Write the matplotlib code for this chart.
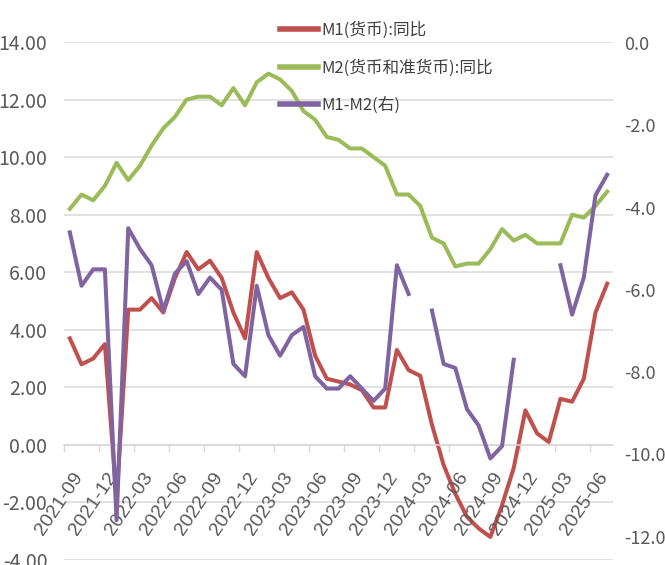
import numpy as np
import matplotlib
matplotlib.use("Agg")
import matplotlib.pyplot as plt
from matplotlib.transforms import ScaledTranslation

# ---------------- data ----------------
months = ["2021-09", "2021-10", "2021-11", "2021-12",
          "2022-01", "2022-02", "2022-03", "2022-04", "2022-05", "2022-06",
          "2022-07", "2022-08", "2022-09", "2022-10", "2022-11", "2022-12",
          "2023-01", "2023-02", "2023-03", "2023-04", "2023-05", "2023-06",
          "2023-07", "2023-08", "2023-09", "2023-10", "2023-11", "2023-12",
          "2024-01", "2024-02", "2024-03", "2024-04", "2024-05", "2024-06",
          "2024-07", "2024-08", "2024-09", "2024-10", "2024-11", "2024-12",
          "2025-01", "2025-02", "2025-03", "2025-04", "2025-05", "2025-06",
          "2025-07"]

m1_yoy = [3.7, 2.8, 3.0, 3.5,
          -1.9, 4.7, 4.7, 5.1, 4.6, 5.8, 6.7, 6.1, 6.4, 5.8, 4.6, 3.7,
          6.7, 5.8, 5.1, 5.3, 4.7, 3.1, 2.3, 2.2, 2.1, 1.9, 1.3, 1.3,
          3.3, 2.6, 2.4, 0.7, -0.7, -1.7, -2.5, -2.9, -3.2, -2.1, -0.8, 1.2,
          0.4, 0.1, 1.6, 1.5, 2.3, 4.6, 5.6]

m2_yoy = [8.2, 8.7, 8.5, 9.0,
          9.8, 9.2, 9.7, 10.4, 11.0, 11.4, 12.0, 12.1, 12.1, 11.8, 12.4, 11.8,
          12.6, 12.9, 12.7, 12.3, 11.6, 11.3, 10.7, 10.6, 10.3, 10.3, 10.0, 9.7,
          8.7, 8.7, 8.3, 7.2, 7.0, 6.2, 6.3, 6.3, 6.8, 7.5, 7.1, 7.3,
          7.0, 7.0, 7.0, 8.0, 7.9, 8.3, 8.8]

nan = np.nan
m1_m2 = [-4.6, -5.9, -5.5, -5.5,
         -11.6, -4.5, -5.0, -5.4, -6.5, -5.6, -5.3, -6.1, -5.7, -6.0, -7.8, -8.1,
         -5.9, -7.1, -7.6, -7.1, -6.9, -8.1, -8.4, -8.4, -8.1, -8.4, -8.7, -8.4,
         -5.4, -6.1, nan, -6.5, -7.8, -7.9, -8.9, -9.3, -10.1, -9.8, -7.7, nan,
         nan, nan, -5.4, -6.6, -5.7, -3.7, -3.2]

series_names = ["M1(货币):同比", "M2(货币和准货币):同比", "M1-M2(右)"]

x_tick_labels = ["2021-09", "2021-12", "2022-03", "2022-06", "2022-09",
                 "2022-12", "2023-03", "2023-06", "2023-09", "2023-12",
                 "2024-03", "2024-06", "2024-09", "2024-12", "2025-03",
                 "2025-06"]
left_ticks = [14, 12, 10, 8, 6, 4, 2, 0, -2, -4]
left_tick_labels = ["14.00", "12.00", "10.00", "8.00", "6.00", "4.00",
                    "2.00", "0.00", "-2.00", "-4.00"]
right_ticks = [0, -2, -4, -6, -8, -10, -12]
right_tick_labels = ["0.0", "-2.0", "-4.0", "-6.0", "-8.0", "-10.0", "-12.0"]

# ---------------- style ----------------
plt.rcParams["font.family"] = ["Noto Sans CJK SC", "DejaVu Sans"]
plt.rcParams["axes.unicode_minus"] = False

RED = "#C0504D"
GREEN = "#9BBB59"
PURPLE = "#8064A2"
GRID = "#D9D9D9"
TXT = "#595959"
LW = 2.9

fig = plt.figure(figsize=(6.65, 5.65), dpi=100)
ax = fig.add_axes([64 / 665, 5 / 565, 549 / 665, 518 / 565])

n = len(months)
x = np.arange(n) + 0.5

l1, = ax.plot(x, m1_yoy, color=RED, lw=LW, solid_joinstyle="round")
l2, = ax.plot(x, m2_yoy, color=GREEN, lw=LW, solid_joinstyle="round")

ax.set_xlim(0, n)
ax.set_ylim(-4, 14)
ax.set_yticks(left_ticks)
ax.set_yticklabels(left_tick_labels)
ax.grid(axis="y", color=GRID, lw=1.1)
ax.set_axisbelow(True)
for s in ["top", "right", "left"]:
    ax.spines[s].set_visible(False)
ax.spines["bottom"].set_position(("data", 0))
ax.spines["bottom"].set_color(GRID)
ax.spines["bottom"].set_linewidth(1.1)
ax.tick_params(axis="y", length=0, pad=12, labelsize=14, labelcolor=TXT)

# tick marks every 3 categories (at category boundaries)
tick_pos = np.arange(0, n, 3)
ax.set_xticks(tick_pos)
ax.tick_params(axis="x", which="major", length=5, width=1.0, color=GRID,
               direction="out", labelbottom=False)

# category labels, rotated, hanging below the axis line at y=0
lab_trans = ax.transData + ScaledTranslation(9 / 100, -29 / 100,
                                             fig.dpi_scale_trans)
for pos, lab in zip(tick_pos, x_tick_labels):
    ax.text(pos + 0.5, 0, lab, transform=lab_trans, rotation=56,
            rotation_mode="anchor", ha="right", va="center",
            fontsize=14, color=TXT,
            family=["Liberation Sans", "DejaVu Sans"], clip_on=False)

ax2 = ax.twinx()
l3, = ax2.plot(x, m1_m2, color=PURPLE, lw=LW, solid_joinstyle="round")
ax2.set_ylim(-12.57, 0.03)
ax2.set_yticks(right_ticks)
ax2.set_yticklabels(right_tick_labels)
for s in ["top", "right", "left", "bottom"]:
    ax2.spines[s].set_visible(False)
ax2.tick_params(axis="y", length=0, pad=8, labelsize=13, labelcolor=TXT)

leg = ax2.legend([l1, l2, l3], series_names, loc="upper left",
                 bbox_to_anchor=(280 / 665, 1 - 22 / 565),
                 bbox_transform=fig.transFigure, frameon=False,
                 fontsize=12, handlelength=2.3, handletextpad=0.2,
                 labelspacing=1.2, borderpad=0, borderaxespad=0)
for t in leg.get_texts():
    t.set_color("#404040")
for h in leg.get_lines():
    h.set_linewidth(4)

fig.savefig("out.png", dpi=100)
